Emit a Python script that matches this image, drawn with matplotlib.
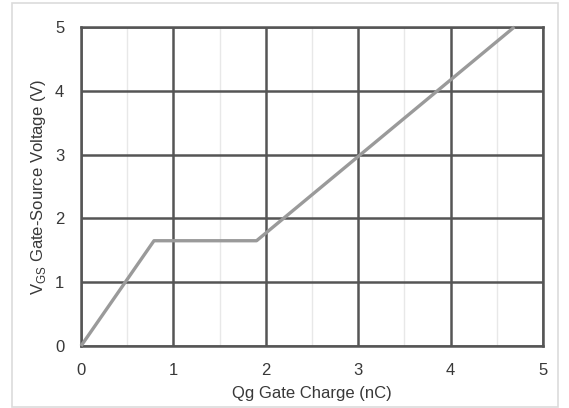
import matplotlib.pyplot as plt
from matplotlib.patches import Rectangle

# gate charge curve (nC, V)
qg = [0.0, 0.79, 1.90, 4.69]
vgs = [0.0, 1.65, 1.65, 5.0]

x_ticks = [0, 1, 2, 3, 4, 5]
y_ticks = [0, 1, 2, 3, 4, 5]
x_minor = [0.5, 1.5, 2.5, 3.5, 4.5]

plt.rcParams['font.family'] = ['Liberation Sans Narrow', 'Liberation Sans', 'DejaVu Sans']

fig = plt.figure(figsize=(5.69, 4.08), dpi=100)
ax = fig.add_axes([81 / 569, 1 - 346 / 408, (543 - 81) / 569, (346 - 27) / 408])

# light outer frame of the picture
fig.patches.append(Rectangle((12 / 569, 1 / 408), (558 - 12) / 569, (405 - 1) / 408,
                             transform=fig.transFigure, fill=False,
                             edgecolor='#dcdcdc', linewidth=1.2))

ax.set_xlim(0, 5)
ax.set_ylim(0, 5)
ax.set_xticks(x_ticks)
ax.set_yticks(y_ticks)
ax.set_xticks(x_minor, minor=True)
ax.grid(True, which='major', color='#555555', linewidth=1.8)
ax.grid(True, which='minor', axis='x', color='#e8e8e8', linewidth=1.0)
ax.tick_params(which='both', length=0)
ax.tick_params(axis='x', pad=12, labelsize=12, labelcolor='#383838')
ax.tick_params(axis='y', pad=12, labelsize=12, labelcolor='#383838')
for s in ax.spines.values():
    s.set_color('#555555')
    s.set_linewidth(1.8)
ax.set_axisbelow(True)

ax.plot(qg, vgs, color='#9a9a9a', linewidth=2.4, solid_capstyle='butt', clip_on=False, zorder=3)

ax.set_xlabel('Qg Gate Charge (nC)', fontsize=12, color='#383838', labelpad=6)
ax.set_ylabel(r'V$_{\mathregular{GS}}$ Gate-Source Voltage (V)', fontsize=12,
              color='#383838', labelpad=5)

fig.savefig('out.png', dpi=100)
